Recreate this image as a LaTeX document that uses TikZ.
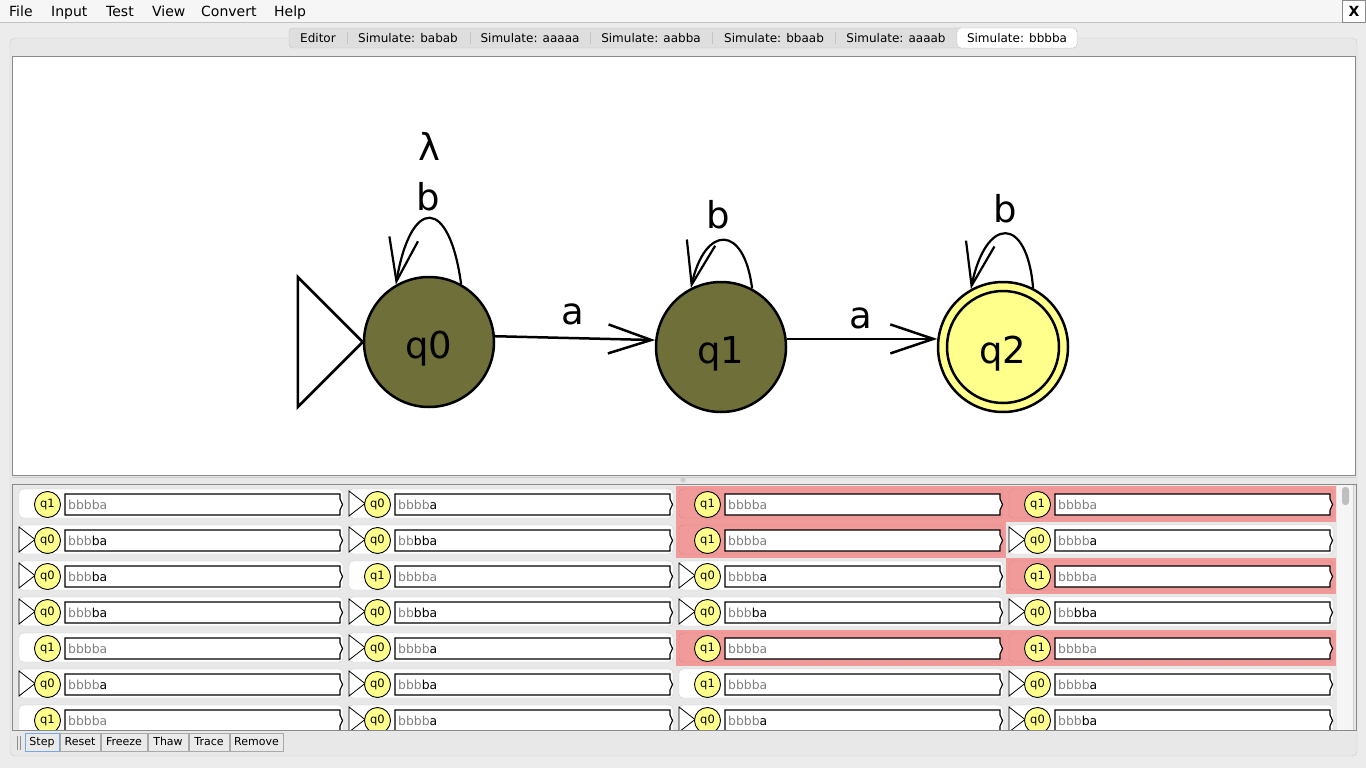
\documentclass[tikz,border=0pt]{standalone}
\usepackage{fontspec}
\setmainfont{DejaVu Sans}
\usetikzlibrary{arrows.meta}
\definecolor{winbg}{HTML}{ECECEC}
\definecolor{panebg}{HTML}{E8E8E8}
\definecolor{paneline}{HTML}{CDCDCD}
\definecolor{menubg}{HTML}{F6F6F6}
\definecolor{olive}{HTML}{6F6F3A}
\definecolor{qyellow}{HTML}{FFFF8C}
\definecolor{cfgred}{HTML}{F09A9A}
\definecolor{cfgredline}{HTML}{DB8888}
\definecolor{cellline}{HTML}{CFCFCF}
\definecolor{txtgray}{HTML}{808080}
\definecolor{tabfill}{HTML}{DEDEDE}
\definecolor{tabline}{HTML}{C4C4C4}
\definecolor{btnfill}{HTML}{EAEAEA}
\definecolor{btnline}{HTML}{A9A9A9}
\definecolor{btnblue}{HTML}{7BA7E1}
\definecolor{framegray}{HTML}{8A8A8A}
\newcommand{\cfg}[7]{%
  \pgfmathsetmacro\cellx{330*#1}%
  \pgfmathsetmacro\celly{486+36*#2}%
  \ifnum#7=1
    \fill[cfgred] (16+\cellx,\celly) rectangle (346+\cellx,\celly+36);
    \draw[draw=cfgredline, fill=cfgred, rounded corners=4] (19+\cellx,\celly+3) rectangle (343+\cellx,\celly+32);
  \else
    \draw[draw=cellline, fill=white, rounded corners=4] (19+\cellx,\celly+3) rectangle (343+\cellx,\celly+32);
  \fi
  \ifnum#4=1
    \draw[line width=0.8, fill=white] (19+\cellx,\celly+5) -- (35+\cellx,\celly+17.5) -- (19+\cellx,\celly+30) -- cycle;
  \fi
  \node[minist] (s-#1-#2) at (47.5+\cellx,\celly+18.5) {#3};
  \draw[line width=1.1, fill=white] (65+\cellx,\celly+8) -- (340+\cellx,\celly+8) -- (340+\cellx,\celly+13) -- (342.5+\cellx,\celly+18.5) -- (340+\cellx,\celly+24) -- (340+\cellx,\celly+29) -- (65+\cellx,\celly+29) -- cycle;
  \node[cfgtxt] (t-#1-#2) at (68+\cellx,\celly+23.5) {\textcolor{txtgray}{#5}#6};
}
\begin{document}
\begin{tikzpicture}[x=1pt,y=-1pt,
  menu/.style={anchor=base west, inner sep=0, font=\fontsize{14}{16}\selectfont},
  tabtxt/.style={anchor=base, inner sep=0, font=\fontsize{12}{14}\selectfont},
  bigst/.style={circle, draw, line width=2.5, minimum size=130, inner sep=0, text height=32pt, text depth=0pt, font=\fontsize{37}{40}\selectfont},
  lbl/.style={anchor=base, inner sep=0, font=\fontsize{37}{40}\selectfont},
  edge/.style={line width=2.5, -{Straight Barb[length=43pt, width=29pt, line width=2.5pt]}},
  loopedge/.style={line width=2.2, -{Straight Barb[length=43pt, width=29pt, line width=2.2pt]}},
  minist/.style={circle, draw, line width=0.9, fill=qyellow, minimum size=26, inner sep=0, font=\fontsize{11.5}{13}\selectfont},
  cfgtxt/.style={anchor=base west, inner sep=0, font=\fontsize{12.4}{14}\selectfont},
  btn/.style={draw=btnline, fill=btnfill, minimum height=18, inner sep=0, text height=8.5pt, text depth=2.5pt, font=\fontsize{11}{12}\selectfont}
]
\useasboundingbox (0,0) rectangle (1366,768);
\fill[winbg] (0,0) rectangle (1366,768);
% menu bar
\fill[menubg] (0,0) rectangle (1366,22);
\draw[tabline] (0,22.5) -- (1366,22.5);
\node[menu] (mfile) at (9,17) {File};
\node[menu] (minput) at (51,17) {Input};
\node[menu] (mtest) at (106,17) {Test};
\node[menu] (mview) at (152,17) {View};
\node[menu] (mconv) at (201,17) {Convert};
\node[menu] (mhelp) at (274,17) {Help};
\draw[framegray, fill=white] (1342.5,0.5) rectangle (1365.5,22);
\node[inner sep=0, font=\bfseries\fontsize{14}{16}\selectfont] (xbtn) at (1354,11.5) {X};
% tabbed pane
\draw[draw=paneline, fill=panebg, rounded corners=5] (10,38) rectangle (1357,756);
\draw[draw=tabline, fill=tabfill, rounded corners=4] (289,28) rectangle (1077,48);
\draw[draw=tabline, fill=white, rounded corners=4] (957,28) rectangle (1077,48);
\foreach \sx in {347,470,590,712,835} \draw[tabline] (\sx,32) -- (\sx,44);
\node[tabtxt] (tab0) at (318,43) {Editor};
\node[tabtxt] (tab1) at (408,43) {Simulate: babab};
\node[tabtxt] (tab2) at (530,43) {Simulate: aaaaa};
\node[tabtxt] (tab3) at (651,43) {Simulate: aabba};
\node[tabtxt] (tab4) at (774,43) {Simulate: bbaab};
\node[tabtxt] (tab5) at (896,43) {Simulate: aaaab};
\node[tabtxt] (tab6) at (1017,43) {Simulate: bbbba};
% canvas
\draw[framegray, fill=white] (12.5,56.5) rectangle (1355.5,475);
\draw[paneline] (12,477) -- (1356,477);
\fill[paneline] (683,480) circle[radius=2.6];
% automaton
\node[bigst, fill=olive] (q0) at (429,342) {q0};
\node[bigst, fill=olive] (q1) at (721,347) {q1};
\node[bigst, fill=qyellow] (q2) at (1003,347) {q2};
\draw[line width=2.5] (q2.center) circle[radius=56];
\draw[line width=2.5, fill=white, line join=miter] (q0.west) -- ++(-65,-65) -- ++(0,130) -- cycle;
\draw[edge] (q0.5) -- (q1.174);
\draw[edge] (q1.7) -- (q2.173);
\draw[loopedge] (q0.61) .. controls +(-12,-88) and +(15,-88) .. (q0.120);
\draw[loopedge] (q1.62) .. controls +(-8,-65) and +(14,-63) .. (q1.117);
\draw[loopedge] (q2.63) .. controls +(-6,-73) and +(15,-73) .. (q2.119);
\node[lbl] (lam) at (429,160) {λ};
\node[lbl] (lb0) at (428.5,210) {b};
\node[lbl] (la01) at (573,324) {a};
\node[lbl] (lb1) at (718.5,228) {b};
\node[lbl] (la12) at (861,328) {a};
\node[lbl] (lb2) at (1005,222) {b};
% lower panel
\draw[framegray, fill=panebg] (12.5,484.5) rectangle (1356,730);
\fill[white!96!black] (1337,485) rectangle (1353,729.5);
\draw[paneline] (1353,485) -- (1353,729.5);
\fill[black!25, rounded corners=3] (1342,487) rectangle (1349,505);
\begin{scope}
\clip (13,485) rectangle (1336,729.5);
\cfg{0}{0}{q1}{0}{bbbba}{}{0}\cfg{1}{0}{q0}{1}{bbbb}{a}{0}\cfg{2}{0}{q1}{0}{bbbba}{}{1}\cfg{3}{0}{q1}{0}{bbbba}{}{1}
\cfg{0}{1}{q0}{1}{bbb}{ba}{0}\cfg{1}{1}{q0}{1}{bb}{bba}{0}\cfg{2}{1}{q1}{0}{bbbba}{}{1}\cfg{3}{1}{q0}{1}{bbbb}{a}{0}
\cfg{0}{2}{q0}{1}{bbb}{ba}{0}\cfg{1}{2}{q1}{0}{bbbba}{}{0}\cfg{2}{2}{q0}{1}{bbbb}{a}{0}\cfg{3}{2}{q1}{0}{bbbba}{}{1}
\cfg{0}{3}{q0}{1}{bbb}{ba}{0}\cfg{1}{3}{q0}{1}{bb}{bba}{0}\cfg{2}{3}{q0}{1}{bbb}{ba}{0}\cfg{3}{3}{q0}{1}{bb}{bba}{0}
\cfg{0}{4}{q1}{0}{bbbba}{}{0}\cfg{1}{4}{q0}{1}{bbbb}{a}{0}\cfg{2}{4}{q1}{0}{bbbba}{}{1}\cfg{3}{4}{q1}{0}{bbbba}{}{1}
\cfg{0}{5}{q0}{1}{bbbb}{a}{0}\cfg{1}{5}{q0}{1}{bbb}{ba}{0}\cfg{2}{5}{q1}{0}{bbbba}{}{0}\cfg{3}{5}{q0}{1}{bbbb}{a}{0}
\cfg{0}{6}{q1}{0}{bbbba}{}{0}\cfg{1}{6}{q0}{1}{bbbb}{a}{0}\cfg{2}{6}{q0}{1}{bbbb}{a}{0}\cfg{3}{6}{q0}{1}{bbb}{ba}{0}
\end{scope}
% button bar
\draw[black!45] (17,736) -- (17,750);
\draw[black!45] (20,736) -- (20,750);
\node[btn, minimum width=34, draw=btnblue] (bstep) at (42,742) {Step};
\node[btn, minimum width=40] (breset) at (80,742) {Reset};
\node[btn, minimum width=46] (bfreeze) at (124,742) {Freeze};
\node[btn, minimum width=40] (bthaw) at (168,742) {Thaw};
\node[btn, minimum width=40] (btrace) at (209,742) {Trace};
\node[btn, minimum width=53] (bremove) at (256.5,742) {Remove};
\end{tikzpicture}
\end{document}
